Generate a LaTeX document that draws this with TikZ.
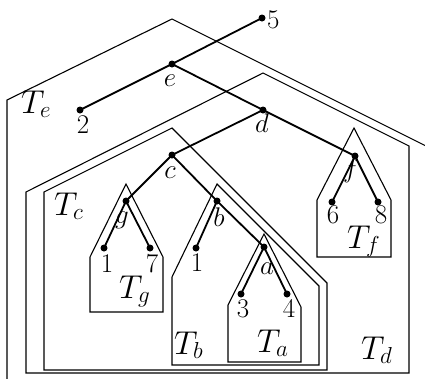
\RequirePackage{fix-cm}
\documentclass[tikz,border=0pt]{standalone}
\begin{document}
\begin{tikzpicture}[x=1pt,y=-1pt,
  dot/.style={circle,fill,inner sep=0pt,minimum size=7pt},
  lab/.style={inner sep=0pt,anchor=north,font=\fontsize{27}{31}\selectfont},
  tlab/.style={inner sep=0pt,anchor=base west,font=\fontsize{33}{37}\selectfont},
  treeedge/.style={line width=1.8pt},
  region/.style={line width=1.1pt,line join=miter}]
\useasboundingbox (0,0) rectangle (425,378);
\clip (0,0) rectangle (425,378);
% regions
\draw[region] (7,390) -- (7,100) -- (172,19) -- (450,158);
\draw[region] (26,192) -- (263,73) -- (409,146) -- (409,373) -- (26,373) -- cycle;
\draw[region] (44,192) -- (172,128) -- (327,283) -- (327,370) -- (44,370) -- cycle;
\draw[region] (172,277) -- (217,184) -- (319,286) -- (319,365) -- (172,365) -- cycle;
\draw[region] (228,305) -- (264,234) -- (301,307) -- (301,362) -- (228,362) -- cycle;
\draw[region] (90,257) -- (126,184) -- (163,257) -- (163,312) -- (90,312) -- cycle;
\draw[region] (317,200) -- (354,128) -- (391,200) -- (391,257) -- (317,257) -- cycle;
% tree nodes
\node[dot] (n5) at (262,18) {};
\node[dot] (ne) at (172,64) {};
\node[dot] (n2) at (80,110) {};
\node[dot] (nd) at (263,110) {};
\node[dot] (nf) at (355,156) {};
\node[dot] (nc) at (172,155) {};
\node[dot] (ng) at (126,201) {};
\node[dot] (nb) at (217,201) {};
\node[dot] (n1g) at (104,248) {};
\node[dot] (n7) at (150,248) {};
\node[dot] (n1b) at (196,248) {};
\node[dot] (na) at (264,247) {};
\node[dot] (n3) at (241,294) {};
\node[dot] (n4) at (287,294) {};
\node[dot] (n6) at (332,202) {};
\node[dot] (n8) at (378,202) {};
% edges
\draw[treeedge] (n5.center) -- (ne.center) -- (n2.center);
\draw[treeedge] (ne.center) -- (nd.center) -- (nf.center);
\draw[treeedge] (nd.center) -- (nc.center) -- (ng.center) -- (n1g.center);
\draw[treeedge] (ng.center) -- (n7.center);
\draw[treeedge] (nc.center) -- (nb.center) -- (n1b.center);
\draw[treeedge] (nb.center) -- (na.center) -- (n3.center);
\draw[treeedge] (na.center) -- (n4.center);
\draw[treeedge] (nf.center) -- (n6.center);
\draw[treeedge] (nf.center) -- (n8.center);
% node labels
\node[lab,anchor=west] (l5) at (267,20) {5};
\node[lab] (le) at (170,75) {$e$};
\node[lab] (l2) at (83,115) {2};
\node[lab] (ld) at (262,114) {$d$};
\node[lab] (lc) at (170,167) {$c$};
\node[lab] (lf) at (351,159) {$f$};
\node[lab] (lg) at (122,212) {$g$};
\node[lab] (lb) at (219,208) {$b$};
\node[lab] (l1g) at (107,254) {1};
\node[lab] (l7) at (152,254) {7};
\node[lab] (l1b) at (197,253) {1};
\node[lab] (la) at (267,263) {$a$};
\node[lab] (l3) at (243,299) {3};
\node[lab] (l4) at (289,299) {4};
\node[lab] (l6) at (333,205) {6};
\node[lab] (l8) at (381,205) {8};
% region labels
\node[tlab] (Te) at (21,113) {$T_e$};
\node[tlab] (Tc) at (54,215) {$T_c$};
\node[tlab] (Tg) at (119,298) {$T_g$};
\node[tlab] (Tb) at (174,354) {$T_b$};
\node[tlab] (Ta) at (257,352) {$T_a$};
\node[tlab] (Td) at (361,359) {$T_d$};
\node[tlab] (Tf) at (347,248) {$T_f$};
\end{tikzpicture}
\end{document}
